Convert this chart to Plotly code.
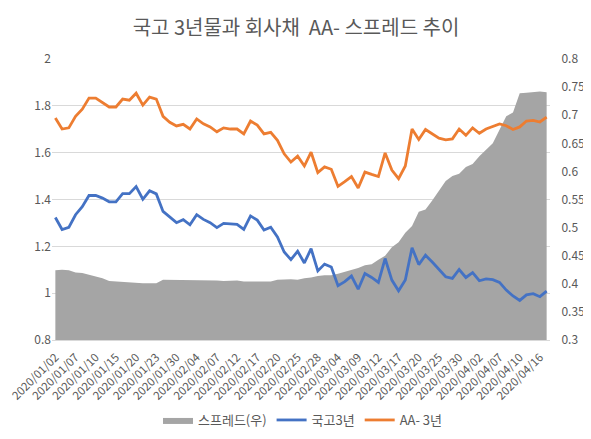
# 국고 3년물 vs 회사채 AA- 3년, 스프레드는 우측 축
import plotly.graph_objects as go

dates = ['2020/01/02', '2020/01/03', '2020/01/06', '2020/01/07', '2020/01/08', '2020/01/09', '2020/01/10',
         '2020/01/13', '2020/01/14', '2020/01/15', '2020/01/16', '2020/01/17', '2020/01/20', '2020/01/21',
         '2020/01/22', '2020/01/23', '2020/01/28', '2020/01/29', '2020/01/30', '2020/01/31', '2020/02/03',
         '2020/02/04', '2020/02/05', '2020/02/06', '2020/02/07', '2020/02/10', '2020/02/11', '2020/02/12',
         '2020/02/13', '2020/02/14', '2020/02/17', '2020/02/18', '2020/02/19', '2020/02/20', '2020/02/21',
         '2020/02/24', '2020/02/25', '2020/02/26', '2020/02/27', '2020/02/28', '2020/03/02', '2020/03/03',
         '2020/03/04', '2020/03/05', '2020/03/06', '2020/03/09', '2020/03/10', '2020/03/11', '2020/03/12',
         '2020/03/13', '2020/03/16', '2020/03/17', '2020/03/18', '2020/03/19', '2020/03/20', '2020/03/23',
         '2020/03/24', '2020/03/25', '2020/03/26', '2020/03/27', '2020/03/30', '2020/03/31', '2020/04/01',
         '2020/04/02', '2020/04/03', '2020/04/06', '2020/04/07', '2020/04/08', '2020/04/09', '2020/04/10',
         '2020/04/13', '2020/04/14', '2020/04/16', '2020/04/17']

# 3개 간격으로만 라벨 표시
tick_dates = dates[::3]

ktb_3y = [1.323, 1.272, 1.281, 1.335, 1.369, 1.417, 1.417, 1.406, 1.390, 1.390, 1.425, 1.425, 1.455, 1.401,
          1.437, 1.424, 1.349, 1.323, 1.301, 1.314, 1.292, 1.335, 1.315, 1.301, 1.280, 1.298, 1.295, 1.294,
          1.272, 1.330, 1.312, 1.270, 1.282, 1.240, 1.176, 1.143, 1.179, 1.129, 1.190, 1.095, 1.124, 1.112,
          1.032, 1.049, 1.073, 1.017, 1.084, 1.067, 1.046, 1.148, 1.056, 1.010, 1.056, 1.194, 1.122, 1.162,
          1.133, 1.101, 1.070, 1.063, 1.101, 1.067, 1.088, 1.053, 1.061, 1.058, 1.046, 1.013, 0.988, 0.969,
          0.993, 0.998, 0.985, 1.009]

aa_3y = [1.748, 1.701, 1.706, 1.755, 1.786, 1.833, 1.833, 1.815, 1.795, 1.795, 1.829, 1.824, 1.854, 1.803,
         1.837, 1.829, 1.755, 1.730, 1.714, 1.721, 1.701, 1.744, 1.723, 1.710, 1.689, 1.706, 1.701, 1.701,
         1.680, 1.735, 1.718, 1.680, 1.687, 1.653, 1.595, 1.560, 1.585, 1.543, 1.602, 1.515, 1.539, 1.529,
         1.456, 1.476, 1.498, 1.449, 1.517, 1.507, 1.498, 1.599, 1.526, 1.489, 1.543, 1.701, 1.656, 1.699,
         1.680, 1.662, 1.655, 1.659, 1.701, 1.674, 1.706, 1.683, 1.701, 1.713, 1.723, 1.715, 1.699, 1.710,
         1.735, 1.738, 1.731, 1.752]

spread = [0.424, 0.425, 0.424, 0.420, 0.419, 0.416, 0.413, 0.410, 0.405, 0.404, 0.403, 0.402, 0.401, 0.401,
          0.401, 0.401, 0.407, 0.407, 0.407, 0.407, 0.407, 0.407, 0.407, 0.407, 0.406, 0.405, 0.406, 0.406,
          0.404, 0.404, 0.404, 0.405, 0.404, 0.407, 0.408, 0.408, 0.407, 0.410, 0.411, 0.414, 0.415, 0.415,
          0.418, 0.421, 0.425, 0.428, 0.433, 0.435, 0.443, 0.450, 0.465, 0.474, 0.491, 0.503, 0.528, 0.532,
          0.548, 0.565, 0.583, 0.592, 0.596, 0.608, 0.613, 0.627, 0.639, 0.650, 0.674, 0.698, 0.705, 0.739,
          0.740, 0.741, 0.742, 0.741]

left_ticks = [0.8, 1, 1.2, 1.4, 1.6, 1.8, 2]
left_labels = ['0.8', '1', '1.2', '1.4', '1.6', '1.8', '2']
right_ticks = [0.3, 0.35, 0.4, 0.45, 0.5, 0.55, 0.6, 0.65, 0.7, 0.75, 0.8]
right_labels = ['0.3', '0.35', '0.4', '0.45', '0.5', '0.55', '0.6', '0.65', '0.7', '0.75', '0.8']

KR_FONT = 'Noto Sans CJK KR'
TEXT_COLOR = '#595959'
NO_TICK = 'rgba(0,0,0,0)'

fig = go.Figure()
# 면적이 선/눈금선 아래로 가도록 스프레드를 기본 y축에 둔다
fig.add_trace(go.Scatter(x=dates, y=spread, name='스프레드(우)', mode='lines', fill='tozeroy',
                         line=dict(width=0, color='#a5a5a5'), fillcolor='#a5a5a5', yaxis='y'))
fig.add_trace(go.Scatter(x=dates, y=ktb_3y, name='국고3년', mode='lines',
                         line=dict(width=2.8, color='#4472c4'), yaxis='y2'))
fig.add_trace(go.Scatter(x=dates, y=aa_3y, name='AA- 3년', mode='lines',
                         line=dict(width=2.8, color='#ed7d31'), yaxis='y2'))

# 페이지 body 여백 8px 감안
fig.update_layout(
    width=583, height=423,
    paper_bgcolor='white', plot_bgcolor='white',
    font=dict(family=KR_FONT, color=TEXT_COLOR, size=12),
    margin=dict(l=44, r=41, t=51, b=91),
    title=dict(text='국고 3년물과 회사채  AA- 스프레드 추이', x=0.494, xanchor='center', y=0.953, yanchor='middle',
               font=dict(size=20, color=TEXT_COLOR, family=KR_FONT), automargin=False),
    legend=dict(orientation='h', xref='container', yref='container', x=0.506, xanchor='center', y=0.026,
                yanchor='middle', font=dict(size=13, color=TEXT_COLOR), itemwidth=30, tracegroupgap=0),
    xaxis=dict(type='category', range=[-0.5, 73.5], tickmode='array', tickvals=tick_dates, ticktext=tick_dates,
               tickangle=-45, showgrid=False, ticks='outside', ticklen=5, tickcolor=NO_TICK, showline=True,
               linecolor='#d9d9d9', linewidth=1, tickfont=dict(size=11.5), automargin=False),
    yaxis=dict(range=[0.3, 0.8], side='right', tickmode='array', tickvals=right_ticks, ticktext=right_labels,
               showgrid=False, zeroline=False, ticks='outside', ticklen=8, tickcolor=NO_TICK, showline=False,
               automargin=False),
    yaxis2=dict(range=[0.8, 2], side='left', overlaying='y', tickmode='array', tickvals=left_ticks,
                ticktext=left_labels, showgrid=True, gridcolor='#d9d9d9', gridwidth=1, zeroline=False, ticks='',
                automargin=False),
)

fig.write_html("out.html")
